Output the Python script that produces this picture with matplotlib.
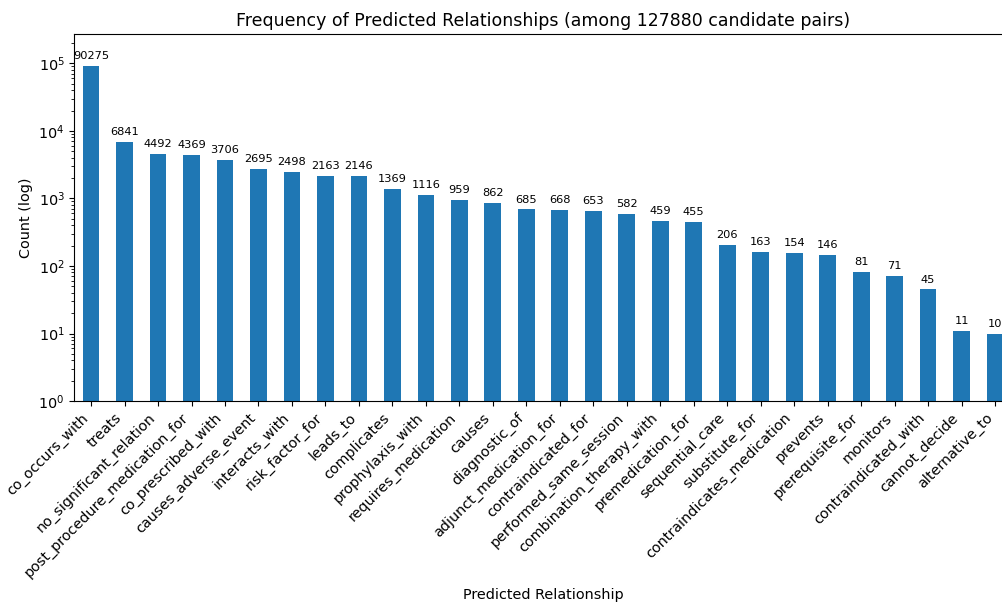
import numpy as np
import matplotlib
matplotlib.use('Agg')
import matplotlib.pyplot as plt

relations = ['co_occurs_with', 'treats', 'no_significant_relation', 'post_procedure_medication_for',
             'co_prescribed_with', 'causes_adverse_event', 'interacts_with', 'risk_factor_for',
             'leads_to', 'complicates', 'prophylaxis_with', 'requires_medication', 'causes',
             'diagnostic_of', 'adjunct_medication_for', 'contraindicated_for', 'performed_same_session',
             'combination_therapy_with', 'premedication_for', 'sequential_care', 'substitute_for',
             'contraindicates_medication', 'prevents', 'prerequisite_for', 'monitors',
             'contraindicated_with', 'cannot_decide', 'alternative_to']
counts = [90275, 6841, 4492, 4369, 3706, 2695, 2498, 2163, 2146, 1369, 1116, 959, 862,
          685, 668, 653, 582, 459, 455, 206, 163, 154, 146, 81, 71, 45, 11, 10]

fig = plt.figure(figsize=(10.03, 6.04), dpi=100)
ax = fig.add_axes([0.0741, 0.336, 0.9347, 0.6076])

x = np.arange(len(counts))
bars = ax.bar(x, counts, width=0.5, color='#1f77b4')
ax.set_yscale('log')
ax.set_xlim(-0.5, len(counts) - 0.5)
ax.set_ylim(1, max(counts) * 3)

for xi, c in zip(x, counts):
    ax.annotate(str(c), (xi, c), xytext=(0, 3.5), textcoords='offset points',
                ha='center', va='bottom', fontsize=8.2)

ax.set_xticks(x)
ax.set_xticklabels(relations, rotation=45, ha='right', fontsize=10.4)
ax.tick_params(axis='y', labelsize=10.4)
ax.set_title('Frequency of Predicted Relationships (among %d candidate pairs)' % sum(counts),
             fontsize=12.5)
ax.set_xlabel('Predicted Relationship', fontsize=10.4, labelpad=6)
ax.set_ylabel('Count (log)', fontsize=10.4)

fig.savefig('out.png', dpi=100)
